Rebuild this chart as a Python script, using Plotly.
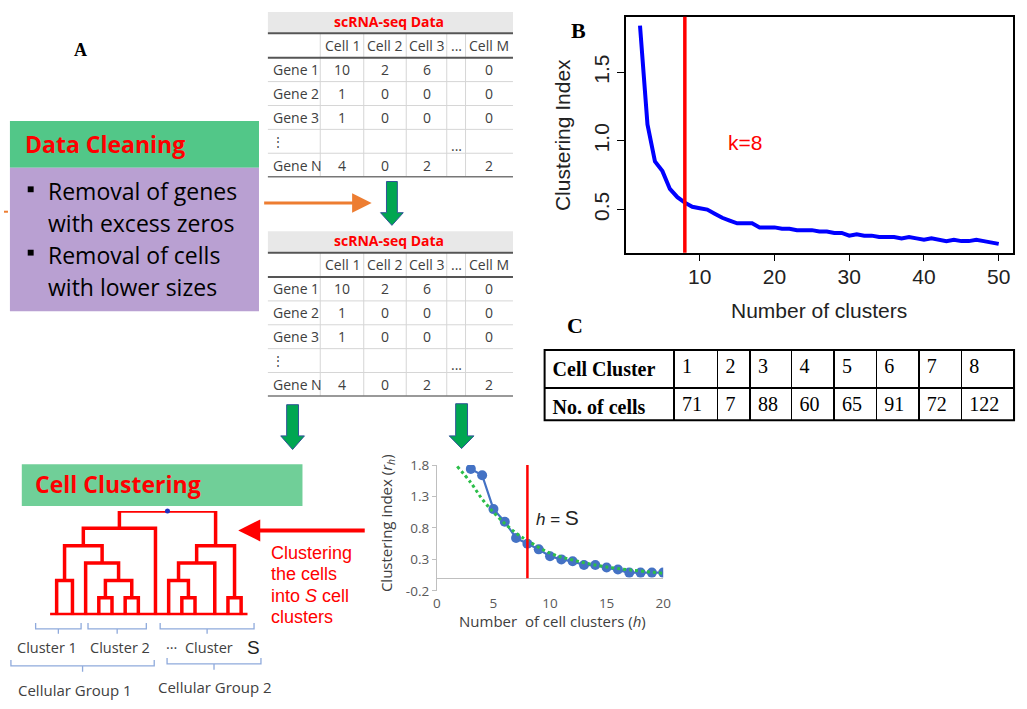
import plotly.graph_objects as go

W, H = 1027, 709
def px(x): return x / W
def py(y): return 1 - y / H

NB = "\u00a0"

# ---------------- data ----------------
# Panel B : clustering index vs number of clusters
b_clusters = list(range(2, 51))
b_index = [1.84, 1.12, 0.85, 0.78, 0.65, 0.59, 0.55, 0.52, 0.51, 0.50,
           0.47, 0.44, 0.42, 0.40, 0.40, 0.40, 0.37, 0.37, 0.37, 0.36,
           0.36, 0.35, 0.35, 0.35, 0.34, 0.34, 0.33, 0.33, 0.31, 0.32,
           0.31, 0.31, 0.30, 0.30, 0.30, 0.29, 0.30, 0.29, 0.28, 0.29,
           0.28, 0.27, 0.28, 0.27, 0.27, 0.28, 0.27, 0.26, 0.25]
b_k = 8

# Inset (panel A) : clustering index r_h vs number of cell clusters h
h_clusters = list(range(3, 21))
h_index = [1.74, 1.64, 1.10, 0.90, 0.64, 0.55, 0.46, 0.35, 0.30, 0.27,
           0.21, 0.21, 0.17, 0.14, 0.09, 0.09, 0.09, 0.09]
trend_h = [1.8, 3, 4, 5, 6, 7, 8, 10, 12, 15, 20]
trend_r = [1.78, 1.52, 1.26, 1.05, 0.87, 0.72, 0.60, 0.40, 0.29, 0.18, 0.08]
h_s = 8

# scRNA-seq data tables
cell_labels = ["", "Cell 1", "Cell 2", "Cell 3", "...", "Cell M"]
gene_labels = ["Gene 1", "Gene 2", "Gene 3", "\u22ee", "Gene N"]
cell1 = [10, 1, 1, "", 4]
cell2 = [2, 0, 0, "", 0]
cell3 = [6, 0, 0, "", 2]
cell_dots = ["", "", "", "...", ""]
cellM = [0, 0, 0, "", 2]

# Panel C
c_cluster = ["1", "2", "3", "4", "5", "6", "7", "8"]
c_cells = [71, 7, 88, 60, 65, 91, 72, 122]

# Dendrogram: leaf positions and merges (child ids >= n_leaves are merged nodes)
leaf_pos = [0, 1.2, 2.2, 3.2, 4.2, 5.2, 6.2, 7.5, 8.5, 9.5, 10.5, 12, 13, 14]
merges = [(3, 4, 1), (5, 6, 1), (9, 10, 1), (12, 13, 1),
          (0, 1, 2), (14, 15, 2), (8, 16, 2),
          (2, 19, 3), (20, 11, 3),
          (18, 21, 4), (22, 17, 4),
          (23, 7, 5), (25, 24, 6)]

# ---------------- figure ----------------
fig = go.Figure()

# Panel B
fig.add_trace(go.Scatter(x=b_clusters, y=b_index, mode="lines",
                         line=dict(color="#0000FF", width=4),
                         xaxis="x", yaxis="y", showlegend=False))

# Inset chart
fig.add_trace(go.Scatter(x=h_clusters, y=h_index, mode="lines+markers",
                         line=dict(color="#4472C4", width=2.2),
                         marker=dict(color="#4472C4", size=10),
                         xaxis="x2", yaxis="y2", showlegend=False))
fig.add_trace(go.Scatter(x=trend_h, y=trend_r, mode="lines",
                         line=dict(color="#2DBE4A", width=3, dash="dot", shape="spline"),
                         xaxis="x2", yaxis="y2", showlegend=False))

# Dendrogram
n_leaves = len(leaf_pos)
node_x = list(leaf_pos)
node_h = [0] * n_leaves
dx, dy = [], []
for a, b, h in merges:
    xa, ha, xb, hb = node_x[a], node_h[a], node_x[b], node_h[b]
    dx += [xa, xa, xb, xb, None]
    dy += [ha, h, h, hb, None]
    node_x.append((xa + xb) / 2)
    node_h.append(h)
fig.add_trace(go.Scatter(x=dx, y=dy, mode="lines", line=dict(color="#FF0000", width=3.5),
                         xaxis="x3", yaxis="y3", showlegend=False, cliponaxis=False))
fig.add_trace(go.Scatter(x=[-0.5, 14.5], y=[0, 0], mode="lines",
                         line=dict(color="#FF0000", width=5),
                         xaxis="x3", yaxis="y3", showlegend=False, cliponaxis=False))
fig.add_trace(go.Scatter(x=[node_x[-1]], y=[node_h[-1]], mode="markers",
                         marker=dict(color="#2030C0", size=5),
                         xaxis="x3", yaxis="y3", showlegend=False, cliponaxis=False))

# Panel C table
fig.add_trace(go.Table(
    domain=dict(x=[px(547), px(1022)], y=[py(423), py(350)]),
    columnwidth=[131, 44, 33, 42, 43, 43, 43, 43, 53],
    header=dict(values=["<b>Cell" + NB + "Cluster</b>"] + c_cluster, height=35, align="left",
                fill_color="white", line=dict(color="black", width=1.5),
                font=dict(family="Liberation Serif", size=20, color="black")),
    cells=dict(values=[["<b>No." + NB + "of" + NB + "cells</b>"]] + [[v] for v in c_cells], height=36,
               align="left", fill_color="white", line=dict(color="black", width=1.5),
               font=dict(family="Liberation Serif", size=20, color="black"))))

# ---------------- shapes ----------------
shapes = []
def rect(x0, y0, x1, y1, fill, line_color=None, lw=0, layer="below"):
    shapes.append(dict(type="rect", xref="paper", yref="paper",
                       x0=px(x0), x1=px(x1), y0=py(y1), y1=py(y0),
                       fillcolor=fill, layer=layer,
                       line=dict(color=line_color or fill, width=lw)))
def line(x0, y0, x1, y1, color, w, dash="solid"):
    shapes.append(dict(type="line", xref="paper", yref="paper",
                       x0=px(x0), x1=px(x1), y0=py(y0), y1=py(y1),
                       line=dict(color=color, width=w, dash=dash)))
def path(points, color, w, fill=None, close=False):
    d = ""
    for i, p in enumerate(points):
        if p is None:
            continue
        cmd = "M" if (i == 0 or points[i - 1] is None) else "L"
        d += f"{cmd}{px(p[0]):.5f},{py(p[1]):.5f} "
    if close:
        d += "Z"
    s = dict(type="path", xref="paper", yref="paper", path=d, line=dict(color=color, width=w))
    if fill:
        s["fillcolor"] = fill
    shapes.append(s)

ann = []
def text(x, y, t, size, color="black", family="Open Sans", xanchor="center", angle=0, yanchor="middle"):
    ann.append(dict(xref="paper", yref="paper", x=px(x), y=py(y), text=t, showarrow=False,
                    font=dict(size=size, color=color, family=family),
                    xanchor=xanchor, yanchor=yanchor, textangle=angle))

# Data cleaning box
rect(6, 115, 258, 163, "#52C788")
rect(6, 163, 258, 310, "#B9A0D2")
rect(24, 182, 30, 188, "black")
rect(24, 247, 30, 253, "black")
line(0, 208, 4, 208, "#ED7D31", 2)

# Cell clustering box
rect(18, 467, 302, 510, "#70CF98")

# scRNA-seq tables: grid, rules and cell texts
SC_COLW = [53, 44, 43, 41, 19, 48]
SC_X0, ROW_H = 267, 24.5
sc_columns = [gene_labels, cell1, cell2, cell3, cell_dots, cellM]
for off in (0, 225):
    rect(267, 3 + off, 515, 24 + off, "#E8E8E8")
    text(390, 13 + off, "<b>scRNA-seq Data</b>", 14, color="#FF0000")
    edges = [SC_X0]
    for wdt in SC_COLW:
        edges.append(edges[-1] + wdt)
    for xc in edges[1:-1]:
        line(xc, 25 + off, xc, 172 + off, "#D6D6D6", 1)
    for k in range(1, 5):
        yy = 50 + ROW_H * k + off
        line(267, yy, 515, yy, "#D6D6D6", 1)
    line(267, 25 + off, 515, 25 + off, "#555555", 2)
    line(267, 50 + off, 515, 50 + off, "#555555", 2)
    line(267, 172 + off, 515, 172 + off, "#777777", 1.5)
    for ci, lab in enumerate(cell_labels):
        if lab:
            text((edges[ci] + edges[ci + 1]) / 2, 37.5 + off, lab, 14, color="#404040")
    for ci, col in enumerate(sc_columns):
        for ri, val in enumerate(col):
            if val == "":
                continue
            yy = 50 + ROW_H * (ri + 0.5) + off
            if ci == 0:
                if val == "\u22ee":
                    text(277, yy, val, 12, color="#404040")
                else:
                    text(270, yy, val, 14, color="#404040", xanchor="left")
            else:
                if val == "...":
                    yy += 4
                text((edges[ci] + edges[ci + 1]) / 2, yy, str(val), 14, color="#404040")

# Panel C outer border
shapes.append(dict(type="rect", xref="paper", yref="paper", x0=px(547), x1=px(1022),
                   y0=py(422), y1=py(350), line=dict(color="black", width=2), layer="above"))

# Panel B k line
shapes.append(dict(type="line", xref="x", yref="paper", x0=b_k, x1=b_k,
                   y0=py(250), y1=py(8), line=dict(color="#FF0000", width=3.5)))
# Inset h = S line
shapes.append(dict(type="line", xref="x2", yref="y2", x0=h_s, x1=h_s,
                   y0=0, y1=1.85, line=dict(color="#FF0000", width=2.5)))

# Green down arrows
def down_arrow(cx, sw, top, sb, hw, tip):
    pts = [(cx - sw / 2, top), (cx + sw / 2, top), (cx + sw / 2, sb), (cx + hw / 2, sb),
           (cx, tip), (cx - hw / 2, sb), (cx - sw / 2, sb)]
    path(pts, "#2F5597", 1, fill="#00A651", close=True)
down_arrow(392.5, 11, 177, 209, 23, 222)
down_arrow(292, 12, 406, 438, 24, 452)
down_arrow(463, 12, 405, 438, 25, 451)

# Brackets
def bracket(x0, x1, y0, y1, y2):
    xc = (x0 + x1) / 2
    path([(x0, y0), (x0, y1), (x1, y1), (x1, y0), None, (xc, y1), (xc, y2)], "#8FAADC", 1.3)
bracket(32, 78, 630, 636, 641)
bracket(85, 144, 630, 636, 641)
bracket(158, 253, 630, 636, 641)
bracket(7, 152, 668, 674, 680)
bracket(165, 260, 666, 672, 678)

# ---------------- annotations ----------------
text(77, 42, "<b>A</b>", 18, family="Liberation Serif")
text(581, 22, "<b>B</b>", 22, family="Liberation Serif")
text(578, 325, "<b>C</b>", 22, family="Liberation Serif")

text(19, 139, "<b>Data Cleaning</b>", 23, color="#FF0000", xanchor="left")
text(42, 187, "Removal of genes", 23, xanchor="left")
text(42, 220, "with excess zeros", 23, xanchor="left")
text(42, 252, "Removal of cells", 23, xanchor="left")
text(42, 285, "with lower sizes", 23, xanchor="left")

text(29, 487, "<b>Cell Clustering</b>", 23, color="#FF0000", xanchor="left")

# Panel B labels
text(750, 137, "k=8", 21, color="#FF0000", family="Liberation Sans")
text(825, 309, "Number of clusters", 21, color="#222222", family="Liberation Sans")
text(565, 129, "Clustering Index", 21, color="#222222", family="Liberation Sans", angle=-90)

# Inset labels
text(555, 628, "Number&nbsp;&nbsp;of cell clusters (<i>h</i>)", 15, color="#404040")
text(387, 527, "Clustering index (<i>r<sub>h</sub></i>)", 15, color="#404040", angle=-90)
text(536, 522, "<i>h</i> = <span style='font-size:21px'>S</span>", 17, color="#222222",
     family="Liberation Sans", xanchor="left")

# Dendrogram side text
for i, t in enumerate(["Clustering", "the cells", "into <i>S</i> cell", "clusters"]):
    text(268, 558 + 22 * i, t, 18, color="#FF0000", family="Liberation Sans", xanchor="left")

text(44, 655, "Cluster 1", 14.5, color="#404040")
text(117, 655, "Cluster 2", 14.5, color="#404040")
text(162, 655, "\u00b7\u00b7\u00b7&nbsp;&nbsp;Cluster", 14.5, color="#404040", xanchor="left")
text(244, 655, "S", 19, color="#222222", family="Liberation Sans", xanchor="left")
text(72, 699, "Cellular Group 1", 15, color="#404040")
text(214, 696, "Cellular Group 2", 15, color="#404040")

# Arrows
ann.append(dict(xref="paper", yref="paper", x=px(372), y=py(199), ax=-109, ay=0,
                text="", showarrow=True, arrowhead=2, arrowsize=1.3, arrowwidth=3,
                arrowcolor="#ED7D31"))
ann.append(dict(xref="paper", yref="paper", x=px(237), y=py(535), ax=128, ay=0,
                text="", showarrow=True, arrowhead=2, arrowsize=1.1, arrowwidth=4,
                arrowcolor="#FF0000"))

# ---------------- layout ----------------
fig.update_layout(
    width=W, height=H, margin=dict(l=0, r=0, t=0, b=0),
    paper_bgcolor="white", plot_bgcolor="rgba(0,0,0,0)",
    showlegend=False, shapes=shapes, annotations=ann,
    xaxis=dict(domain=[px(629), px(1021)], range=[0.08, 51.92], tickvals=[10, 20, 30, 40, 50],
               ticks="outside", ticklen=7, tickwidth=1.2, tickcolor="black",
               showline=True, mirror=True, linecolor="black", linewidth=1.5,
               showgrid=False, zeroline=False, ticklabelstandoff=-3,
               tickfont=dict(family="Liberation Sans", size=21, color="#222222")),
    yaxis=dict(domain=[py(250), py(8)], range=[0.186, 1.904], tickvals=[0.5, 1.0, 1.5],
               ticktext=["0.5", "1.0", "1.5"], tickangle=-90,
               ticks="outside", ticklen=7, tickwidth=1.2, tickcolor="black",
               showline=True, mirror=True, linecolor="black", linewidth=1.5,
               showgrid=False, zeroline=False,
               tickfont=dict(family="Liberation Sans", size=21, color="#222222")),
    xaxis2=dict(domain=[px(438), px(667)], range=[0, 20], tickvals=[0, 5, 10, 15, 20],
                showline=False, ticks="", showgrid=False, zeroline=False, anchor="y2",
                ticklabelstandoff=3,
                tickfont=dict(family="Open Sans", size=13.5, color="#595959")),
    yaxis2=dict(domain=[py(597), py(468)], range=[-0.2, 1.8],
                tickvals=[-0.2, 0.3, 0.8, 1.3, 1.8], ticktext=["-0.2", "0.3", "0.8", "1.3", "1.8"],
                showline=True, linecolor="#BFBFBF", linewidth=1, ticks="outside", ticklen=4,
                tickcolor="#BFBFBF", showgrid=False, zeroline=True, zerolinecolor="#BFBFBF",
                zerolinewidth=1, anchor="x2",
                tickfont=dict(family="Open Sans", size=13.5, color="#595959")),
    xaxis3=dict(domain=[px(46.6), px(246.6)], range=[-0.5, 14.5], visible=False, anchor="y3"),
    yaxis3=dict(domain=[py(622), py(515)], range=[0, 6], visible=False, anchor="x3"),
)

fig.write_html("out.html")
